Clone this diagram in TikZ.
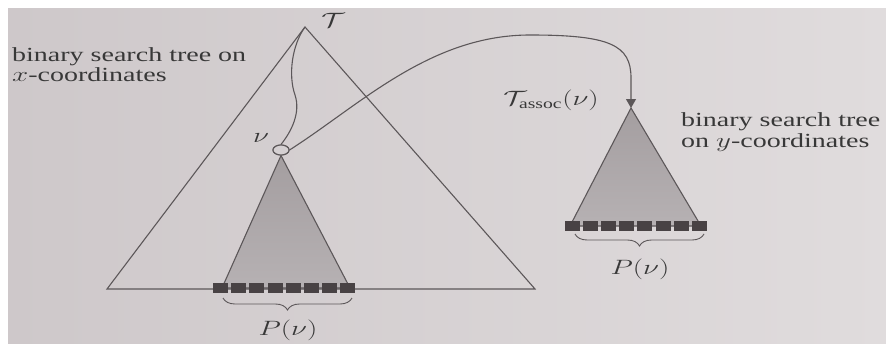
\documentclass[tikz,border=0pt]{standalone}
\usepackage{fontspec}
\setmainfont{Liberation Serif}
\usepackage{graphicx}
\usetikzlibrary{shapes.geometric,decorations.pathreplacing,arrows.meta}
\definecolor{bgL}{RGB}{206,200,202}
\definecolor{bgR}{RGB}{224,220,221}
\definecolor{linec}{RGB}{92,87,89}
\definecolor{fillTop}{RGB}{164,158,160}
\definecolor{fillBot}{RGB}{182,177,179}
\definecolor{sqc}{RGB}{72,66,68}
\newcommand\wx[1]{\scalebox{1.40}[1]{#1}}
\tikzset{
  edge/.style={draw=linec, line width=1.1pt},
  subtree/.style={draw=linec, line width=1.1pt, top color=fillTop, bottom color=fillBot},
  leaf/.style={fill=sqc},
  bracestyle/.style={draw=linec, line width=0.9pt, decorate, decoration={brace, mirror, amplitude=12pt}},
  lbl/.style={inner sep=0pt, text=black!78, font=\fontsize{20}{21}\selectfont},
  treenode/.style={ellipse, draw=linec, line width=1.1pt, fill=bgL!60!bgR, minimum width=16pt, minimum height=10pt, inner sep=0pt},
}
\begin{document}
\begin{tikzpicture}[x=1pt, y=-1pt]
\useasboundingbox (0,0) rectangle (886,343);
\fill[white] (0,0) rectangle (886,343);
\shade[left color=bgL, right color=bgR] (8,8) rectangle (886,343);

% big tree
\coordinate (apex) at (305,27);
\coordinate (bl) at (107,289);
\coordinate (br) at (535,289);
\draw[edge, line join=miter] (apex) -- (bl) -- (br) -- cycle;
\node[lbl] (T) at (333,20) {\wx{$\mathcal{T}$}};

% node nu
\node[treenode] (nu) at (281,150) {};
\node[lbl] (nulab) at (261,138) {\wx{$\nu$}};

% subtree of nu
\coordinate (sl) at (222,288);
\coordinate (sr) at (350,288);
\path[subtree] (nu.south) -- (sl) -- (sr) -- cycle;
\draw[edge] (apex) .. controls (292,45) and (288,75) .. (295,95) .. controls (301,113) and (291,132) .. (nu.north);
\node[treenode] at (nu) {};
\foreach \i in {0,...,7} {
  \fill[leaf] ({213+\i*18.2},283) rectangle ({213+\i*18.2+15},293);
}
\coordinate (b1a) at (223,298);
\coordinate (b1b) at (352,298);
\draw[bracestyle] (b1a) -- (b1b);
\node[lbl] (P1) at (288,330) {\wx{$P(\nu)$}};

% associated tree
\coordinate (apexR) at (631,108);
\coordinate (rl) at (570,226);
\coordinate (rr) at (701,226);
\path[subtree] (apexR) -- (rl) -- (rr) -- cycle;
\foreach \i in {0,...,7} {
  \fill[leaf] ({565+\i*18.1},221) rectangle ({565+\i*18.1+15},231);
}
\coordinate (b2a) at (575,234);
\coordinate (b2b) at (704,234);
\draw[bracestyle] (b2a) -- (b2b);
\node[lbl] (P2) at (640,269) {\wx{$P(\nu)$}};

% connector nu -> T_assoc
\draw[edge, -{Triangle[length=9pt,width=10pt]}] (nu.east) .. controls (360,105) and (430,35) .. (530,35) .. controls (610,35) and (631,45) .. (631,78) -- (apexR);
\node[lbl] (Tassoc) at (551,100) {\wx{$\mathcal{T}_{\mathrm{assoc}}(\nu)$}};

% captions
\node[lbl, anchor=base west] (cx1) at (12,61) {\wx{binary search tree on}};
\node[lbl, anchor=base west] (cx2) at (12,81) {\wx{$x$-coordinates}};
\node[lbl, anchor=base west] (cy1) at (681,126) {\wx{binary search tree}};
\node[lbl, anchor=base west] (cy2) at (681,147) {\wx{on $y$-coordinates}};
\end{tikzpicture}
\end{document}
